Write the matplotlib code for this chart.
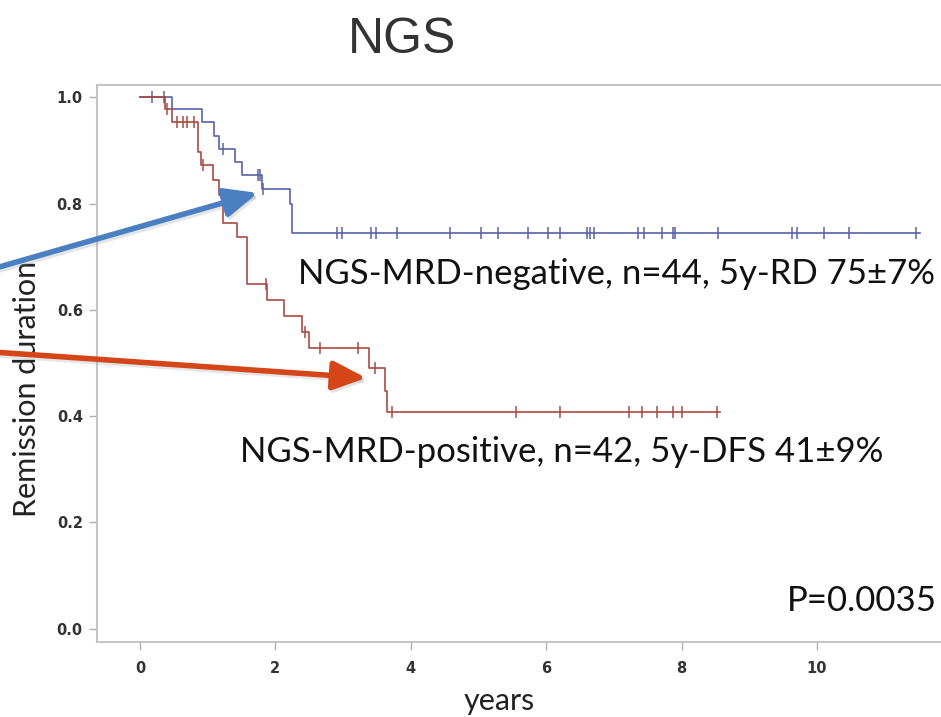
import numpy as np
import matplotlib
matplotlib.use("Agg")
from matplotlib import pyplot as plt

# NGS-MRD-negative (blue): event times / survival after each drop, censor times
neg_event_t = [0.47, 0.91, 1.09, 1.16, 1.40, 1.50, 1.80, 2.21, 2.25]
neg_event_s = [0.977, 0.953, 0.928, 0.903, 0.878, 0.853, 0.828, 0.800, 0.744]
neg_cens = [0.17, 0.35, 1.22, 1.75, 1.77, 1.82, 2.91, 2.98, 3.41, 3.48, 3.80,
            4.58, 5.04, 5.29, 5.73, 6.03, 6.21, 6.60, 6.65, 6.71, 7.36, 7.44,
            7.71, 7.88, 7.91, 8.54, 9.63, 9.70, 10.10, 10.47, 11.46]
neg_end = 11.52

# NGS-MRD-positive (red)
pos_event_t = [0.37, 0.47, 0.86, 0.90, 1.08, 1.17, 1.23, 1.43, 1.58, 1.88,
               2.13, 2.40, 2.50, 3.39, 3.62, 3.65]
pos_event_s = [0.977, 0.953, 0.897, 0.872, 0.844, 0.816, 0.763, 0.737, 0.648,
               0.618, 0.588, 0.559, 0.528, 0.490, 0.447, 0.408]
pos_cens = [0.40, 0.55, 0.63, 0.70, 0.79, 0.93, 1.21, 1.86, 2.44, 2.66, 3.22,
            3.47, 3.72, 5.56, 6.20, 7.23, 7.41, 7.64, 7.87, 8.01, 8.52]
pos_end = 8.57

neg_label = "NGS-MRD-negative, n=44, 5y-RD 75\u00b17%"
pos_label = "NGS-MRD-positive, n=42, 5y-DFS 41\u00b19%"
p_label = "P=0.0035"

xticks = [0, 2, 4, 6, 8, 10]
yticks = [0.0, 0.2, 0.4, 0.6, 0.8, 1.0]

blue = "#5862a6"
red = "#a84a42"

fig = plt.figure(figsize=(9.41, 7.17), dpi=100)
ax = fig.add_axes([0.1028, 0.1046, 0.93, 0.7768])


def km(ax, ev_t, ev_s, cens, end, color):
    t = np.concatenate([[0.0], ev_t, [end]])
    s = np.concatenate([[1.0], ev_s, [ev_s[-1]]])
    ax.step(t, s, where="post", color=color, lw=1.2)
    idx = np.searchsorted(t, cens, side="right") - 1
    ax.plot(cens, s[idx], ls="none", marker="|", ms=8, mew=1.1, color=color)


km(ax, neg_event_t, neg_event_s, neg_cens, neg_end, blue)
km(ax, pos_event_t, pos_event_s, pos_cens, pos_end, red)

ax.set_xlim(-0.64, 12.29)
ax.set_ylim(-0.025, 1.023)
ax.set_xticks(xticks)
ax.set_yticks(yticks)
ax.set_yticklabels([f"{v:.1f}" for v in yticks])
for sp in ax.spines.values():
    sp.set_color("#c4c4c4")
    sp.set_linewidth(1.5)
ax.tick_params(colors="#b0b0b0", labelcolor="#333333", length=6, width=1)
tick_font = ["DejaVu Sans Condensed", "DejaVu Sans"]
for lab in ax.get_xticklabels() + ax.get_yticklabels():
    lab.set_family(tick_font)
    lab.set_fontweight("bold")
    lab.set_fontsize(10.5)
ax.tick_params(axis="x", pad=8)
ax.tick_params(axis="y", pad=4)

ax.set_ylabel("Remission duration", family="Lato", fontsize=22, color="#222222")
ax.yaxis.set_label_coords(-0.064, 0.455)
ax.set_xlabel("years", family="Lato", fontsize=22, color="#222222")
ax.xaxis.set_label_coords(0.46, -0.08)

ax.text(2.33, 0.667, neg_label, family="Lato", fontsize=25, va="center",
        ha="left", color="#111111")
ax.text(1.48, 0.333, pos_label, family="Lato", fontsize=25, va="center",
        ha="left", color="#111111")
ax.text(11.77, 0.052, p_label, family="Lato", fontsize=25, va="center",
        ha="right", color="#111111")

fig.text(402 / 941, 1 - 40 / 717, "NGS", family="Liberation Sans", fontsize=36,
         ha="center", va="center", color="#333333")

# arrows pointing at the curves, starting outside the axes
arrows = [((1.74, 0.82), (-2.1, 0.68), "#4a7fc1"),
          ((3.34, 0.472), (-2.1, 0.52), "#d44518")]
for tip, start, col in arrows:
    for dx, dy, c, a in [(0.03, -0.005, "#999999", 0.25), (0, 0, col, 1.0)]:
        ax.annotate("", xy=(tip[0] + dx, tip[1] + dy),
                    xytext=(start[0] + dx, start[1] + dy),
                    xycoords="data", textcoords="data", annotation_clip=False,
                    arrowprops=dict(arrowstyle="-|>,head_length=0.8,head_width=0.35",
                                    mutation_scale=25, lw=4, color=c, alpha=a,
                                    shrinkA=0, shrinkB=0))

fig.savefig("out.png", dpi=100)
